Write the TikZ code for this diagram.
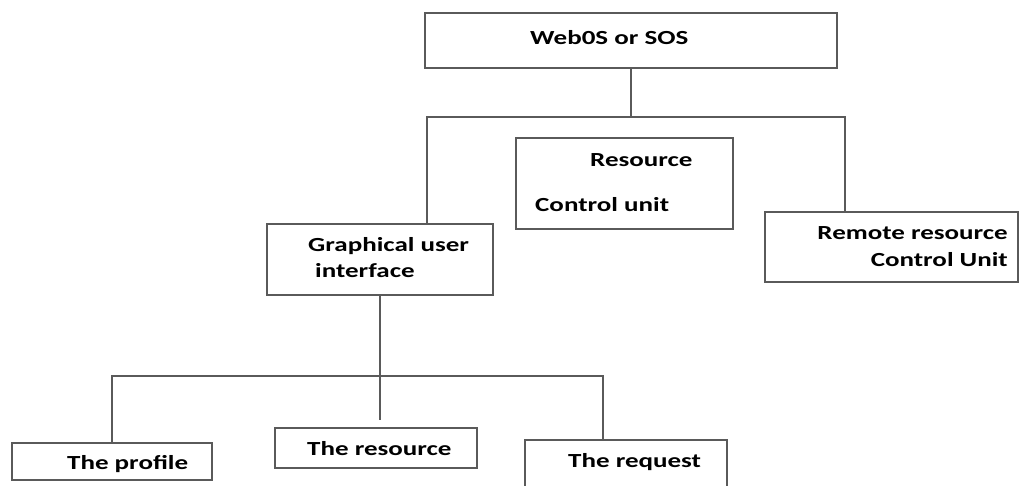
\documentclass[tikz,border=0pt]{standalone}
\usepackage{fontspec}
\usepackage{tikz}
\usetikzlibrary{positioning}
\newfontfamily\boxfont{Carlito}[FakeStretch=1.35]
\definecolor{linegray}{HTML}{5A5A5A}

\begin{document}
\begin{tikzpicture}[x=1pt, y=-1pt,
    box/.style={draw=linegray, line width=1.6pt, rectangle, inner sep=0pt},
    txt/.style={anchor=base west, inner sep=0pt, font=\boxfont\bfseries\fontsize{20}{24}\selectfont},
    link/.style={draw=linegray, line width=1.6pt}]
    \clip (0,0) rectangle (1020,486);
    % Draw the boxes
    \node[box, minimum width=412, minimum height=55] (os) at (631,40.5) {};
    \node[box, minimum width=217, minimum height=91] (rcu) at (624.5,183.5) {};
    \node[box, minimum width=226, minimum height=71] (gui) at (380,259.5) {};
    \node[box, minimum width=253, minimum height=70] (rrcu) at (891.5,247) {};
    \node[box, minimum width=200, minimum height=37] (profile) at (112,461.5) {};
    \node[box, minimum width=202, minimum height=40] (resource) at (376,448) {};
    \node[box, minimum width=202, minimum height=60] (request) at (626,470) {};
    % Put the texts in
    \node[txt] (os-t) at (530,44.5) {Web0S or SOS};
    \node[txt] (rcu-t1) at (590,166.7) {Resource};
    \node[txt] (rcu-t2) at (535,211.7) {Control unit};
    \node[txt] (gui-t1) at (308,251.7) {Graphical user};
    \node[txt] (gui-t2) at (315,278) {interface};
    \node[txt, anchor=base east] (rrcu-t1) at (1008,240) {Remote resource};
    \node[txt, anchor=base east] (rrcu-t2) at (1008,266.7) {Control Unit};
    \node[txt] (profile-t) at (67,469) {The profile};
    \node[txt] (resource-t) at (307,455) {The resource};
    \node[txt] (request-t) at (568,467) {The request};
    % Connect the levels
    \coordinate (topbus-l) at (427,117);
    \coordinate (topbus-r) at (845,117);
    \coordinate (guiend) at (377,420);
    \coordinate (lowbus-r) at (603,376);
    \draw[link] (os.south) -- (os.south |- topbus-l);
    \draw[link] (gui.north -| topbus-l) -- (topbus-l) -- (topbus-r) -- (rrcu.north -| topbus-r);
    \draw[link] (gui.south) -- (gui.south |- guiend);
    \draw[link] (profile.north) |- (lowbus-r) -- (request.north -| lowbus-r);
\end{tikzpicture}
\end{document}
